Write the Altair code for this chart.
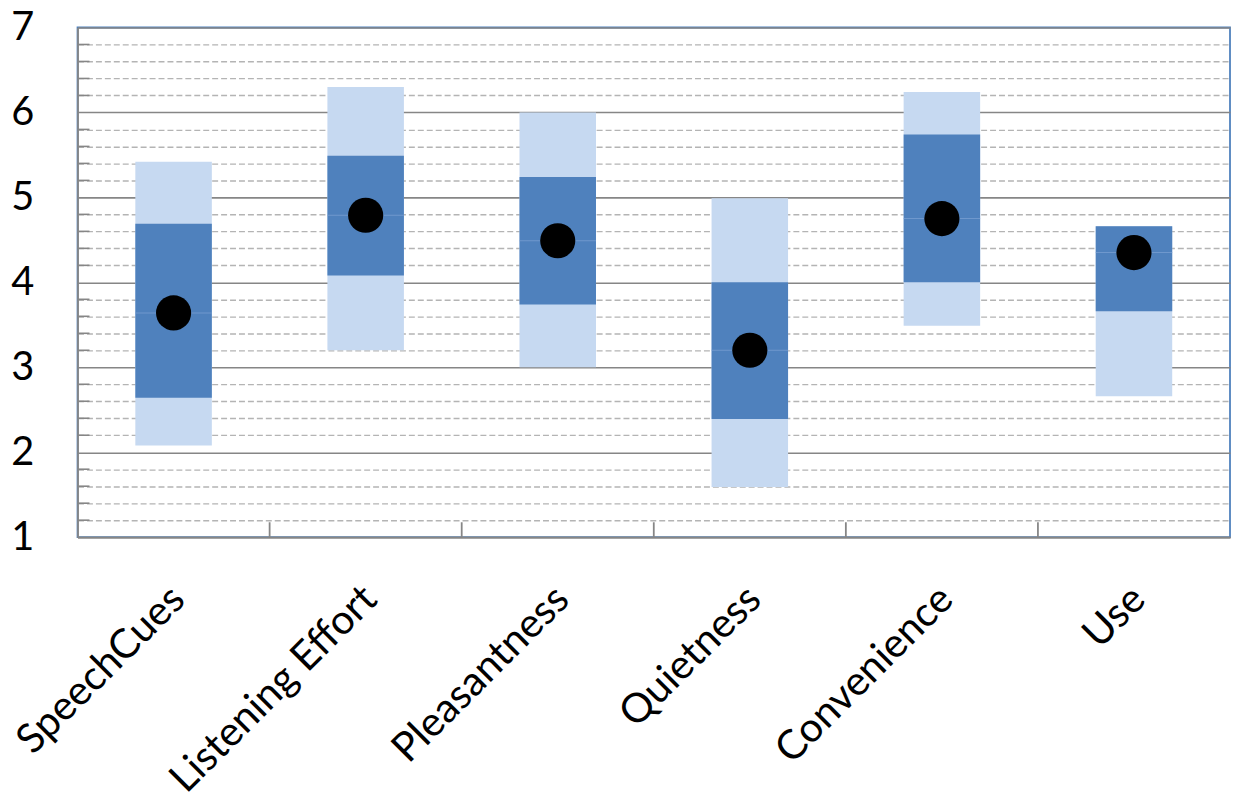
import altair as alt
import pandas as pd

categories = ["SpeechCues", "Listening Effort", "Pleasantness", "Quietness", "Convenience", "Use"]
outer_low = [2.08, 3.20, 3.00, 1.59, 3.49, 2.66]
inner_low = [2.64, 4.08, 3.74, 2.39, 4.00, 3.66]
mean_val = [3.64, 4.79, 4.49, 3.20, 4.75, 4.35]
inner_high = [4.69, 5.49, 5.24, 4.00, 5.74, 4.66]
outer_high = [5.42, 6.30, 6.00, 4.99, 6.24, 4.66]

y_ticks = [round(1 + 0.2 * i, 1) for i in range(31)]
minor_ticks = [v for v in y_ticks if abs(v - round(v)) > 1e-9]

df = pd.DataFrame({
    "cat": categories,
    "olow": outer_low,
    "ilow": inner_low,
    "mean": mean_val,
    "ihigh": inner_high,
    "ohigh": outer_high,
})
minor_df = pd.DataFrame({"v": minor_ticks})
bound_df = pd.DataFrame({"cat": categories[1:]})

W, H = 1160, 513
xscale = alt.Scale(domain=categories, paddingInner=0, paddingOuter=0)
yscale = alt.Scale(domain=[1, 7], nice=False, zero=False)

is_major = "abs(datum.value - round(datum.value)) < 1e-6"
yaxis = alt.Axis(
    values=y_ticks,
    labelExpr=f"{is_major} ? format(datum.value, 'd') : ''",
    grid=True,
    gridDash={"condition": {"test": is_major, "value": []}, "value": [6, 3]},
    gridColor={"condition": {"test": is_major, "value": "#868686"}, "value": "#B4B4B4"},
    gridWidth={"condition": {"test": is_major, "value": 1.6}, "value": 1.4},
    ticks=False,
    domain=True,
    domainColor="#868686",
    domainWidth=1.8,
    labelFont="Lato",
    labelFontSize=40,
    labelColor="#000000",
    labelPadding=44,
    title=None,
)
xaxis = alt.Axis(
    labelAngle=-45,
    labelAlign="right",
    labelBaseline="middle",
    labelFont="Lato",
    labelFontSize=41,
    labelColor="#000000",
    labelPadding=56,
    labelOffset=5,
    labelLimit=0,
    ticks=False,
    grid=False,
    domain=True,
    domainColor="#868686",
    domainWidth=1.8,
    title=None,
)

X = alt.X("cat:N", sort=categories, scale=xscale, axis=xaxis)

light = alt.Chart(df).mark_bar(size=77, color="#C6D9F1").encode(
    x=X,
    y=alt.Y("olow:Q", scale=yscale, axis=yaxis),
    y2="ohigh:Q",
)
dark = alt.Chart(df).mark_bar(size=77, color="#4F81BD").encode(
    x=X,
    y=alt.Y("ilow:Q", scale=yscale, axis=yaxis),
    y2="ihigh:Q",
)
seam = alt.Chart(df).mark_tick(size=77, thickness=1, color="#7EA3D4", orient="horizontal").encode(
    x=X,
    y=alt.Y("mean:Q", scale=yscale, axis=yaxis),
)
dots = alt.Chart(df).mark_circle(size=1250, color="#000000", opacity=1).encode(
    x=X,
    y=alt.Y("mean:Q", scale=yscale, axis=yaxis),
)
minor = alt.Chart(minor_df).mark_rule(color="#868686", strokeWidth=1.6).encode(
    y=alt.Y("v:Q", scale=yscale, axis=yaxis),
    x=alt.value(0),
    x2=alt.value(12),
)
bounds = alt.Chart(bound_df).mark_rule(color="#868686", strokeWidth=1.8).encode(
    x=alt.X("cat:N", sort=categories, scale=xscale, axis=xaxis, bandPosition=0),
    y=alt.value(H - 15),
    y2=alt.value(H),
)

chart = alt.layer(light, dark, seam, dots, minor, bounds).properties(
    width=W,
    height=H,
    autosize=alt.AutoSizeParams(type="none"),
    padding={"left": 70, "top": 17, "right": 1, "bottom": 272},
    background="#FFFFFF",
).configure_view(
    stroke="#4F81BD",
    strokeWidth=1.8,
)

chart.save("out.html", embed_options={"renderer": "svg", "actions": False})
